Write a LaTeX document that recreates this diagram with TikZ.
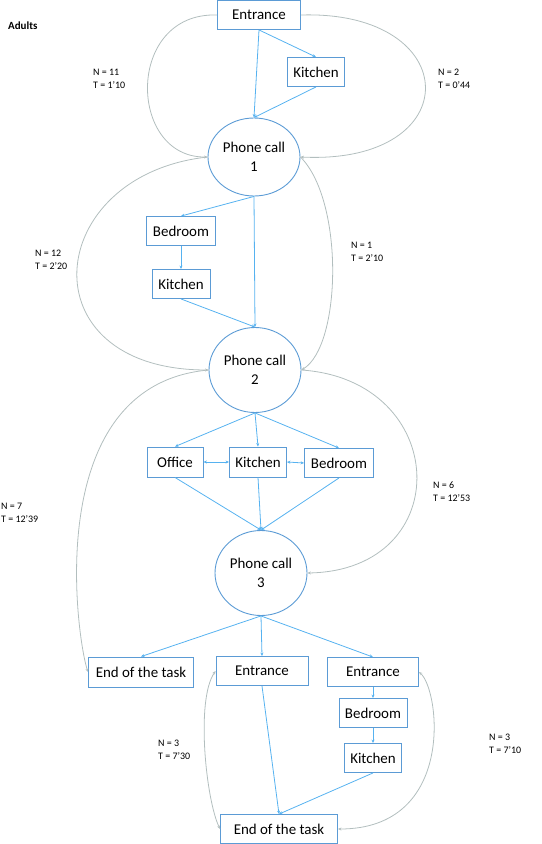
\documentclass[tikz,border=0pt]{standalone}
\usepackage{fontspec}
\setmainfont{Carlito}
\usetikzlibrary{shapes.geometric,arrows.meta}
\definecolor{boxblue}{RGB}{91,155,213}
\definecolor{linkblue}{RGB}{86,178,240}
\definecolor{routegray}{RGB}{178,190,190}

\begin{document}
\begin{tikzpicture}[x=1bp,y=-1bp,
  >={Stealth[length=3.5pt,width=3pt]},
  room/.style={draw=boxblue,line width=0.9pt,minimum height=29bp,inner xsep=5bp,inner ysep=0pt,font=\fontsize{15}{18}\selectfont},
  call/.style={draw=boxblue,line width=0.9pt,ellipse,inner sep=0pt,minimum width=92bp,align=center,font=\fontsize{15}{19.5}\selectfont},
  link/.style={draw=linkblue,line width=0.8pt,->},
  route/.style={draw=routegray,line width=0.8pt,->},
  stat/.style={anchor=north west,inner sep=0pt,align=left,font=\fontsize{10}{13}\selectfont}]
\useasboundingbox (0,0) rectangle (542,844);

\node[anchor=north west,inner sep=0pt,font=\fontsize{11}{13}\selectfont\bfseries] (title) at (8,22) {Adults};

% rooms and calls
\node[room,minimum width=83bp] (ent1) at (259,15) {Entrance};
\node[room,minimum width=57bp] (kit1) at (316,72) {Kitchen};
\node[call,minimum height=78bp] (call1) at (254,157) {Phone call\\1};
\node[room,minimum width=69bp] (bed1) at (181,231) {Bedroom};
\node[room,minimum width=58bp] (kit2) at (181,284) {Kitchen};
\node[call,minimum height=85bp] (call2) at (255,370) {Phone call\\2};
\node[room,minimum width=56bp,minimum height=30bp] (off) at (175,462) {Office};
\node[room,minimum width=57bp,minimum height=30bp] (kit3) at (258,462) {Kitchen};
\node[room,minimum width=69bp] (bed3) at (339,463) {Bedroom};
\node[call,minimum height=85bp] (call3) at (261,573) {Phone call\\3};
\node[room,minimum width=105bp,minimum height=30bp] (end1) at (141,672) {End of the task};
\node[room,minimum width=92bp] (ent2) at (262,671) {Entrance};
\node[room,minimum width=91bp] (ent3) at (373,672) {Entrance};
\node[room,minimum width=68bp] (bed4) at (373,713) {Bedroom};
\node[room,minimum width=57bp] (kit4) at (373,758) {Kitchen};
\node[room,minimum width=117bp] (end2) at (279,829) {End of the task};

% blue links
\draw[link] (ent1.south) -- (call1.north);
\draw[link] (ent1.south) -- (kit1.north);
\draw[link] (kit1.south) -- (call1.north);
\draw[link] (call1.south) -- (bed1.north);
\draw[link] (call1.south) -- (call2.north);
\draw[link] (bed1.south) -- (kit2.north);
\draw[link] (kit2.south) -- (call2.north);
\foreach \r in {off,kit3,bed3}
{
	\draw[link] (call2.south) -- (\r.north);
	\draw[link] (\r.south) -- (call3.north);
}
\draw[link,<->] (off.east) -- (kit3.west);
\draw[link,<->] (kit3.east) -- (bed3.west);
\foreach \r in {end1,ent2,ent3}
{
	\draw[link] (call3.south) -- (\r.north);
}
\draw[link] (ent2.south) -- (end2.north);
\draw[link] (ent3.south) -- (bed4.north);
\draw[link] (bed4.south) -- (kit4.north);
\draw[link] (kit4.south) -- (end2.north);

% grey routes
\draw[route] (ent1.west) .. controls +(-92,-3) and +(-80,1) .. (call1.west);
\draw[route] (ent1.east) .. controls +(164,-5) and +(168,8) .. (call1.east);
\draw[route] (call1.west) .. controls +(-165,18) and +(-184,0) .. (call2.west);
\draw[route] (call1.east) .. controls +(44,44) and +(40,-24) .. (call2.east);
\draw[route] (call2.west) .. controls +(-169,15) and +(-11,-32) .. (end1.west);
\draw[route] (call2.east) .. controls +(149,10) and +(150,-3) .. (call3.east);
\draw[route,<->] (ent2.west) .. controls +(-20,29) and +(-14,-29) .. (end2.west);
\draw[route,<->] (ent3.east) .. controls +(21,18) and +(118,0) .. (end2.east);

\node[stat] (n11) at (93,69) {N = 11\\T = 1’10};
\node[stat] (n2) at (438,69) {N = 2\\T = 0’44};
\node[stat] (n12) at (35,250) {N = 12\\T = 2’20};
\node[stat] (n1) at (351,242) {N = 1\\T = 2’10};
\node[stat] (n7) at (1,503) {N = 7\\T = 12’39};
\node[stat] (n6) at (433,482) {N = 6\\T = 12’53};
\node[stat] (n3a) at (158,740) {N = 3\\T = 7’30};
\node[stat] (n3b) at (489,734) {N = 3\\T = 7’10};
\end{tikzpicture}
\end{document}
